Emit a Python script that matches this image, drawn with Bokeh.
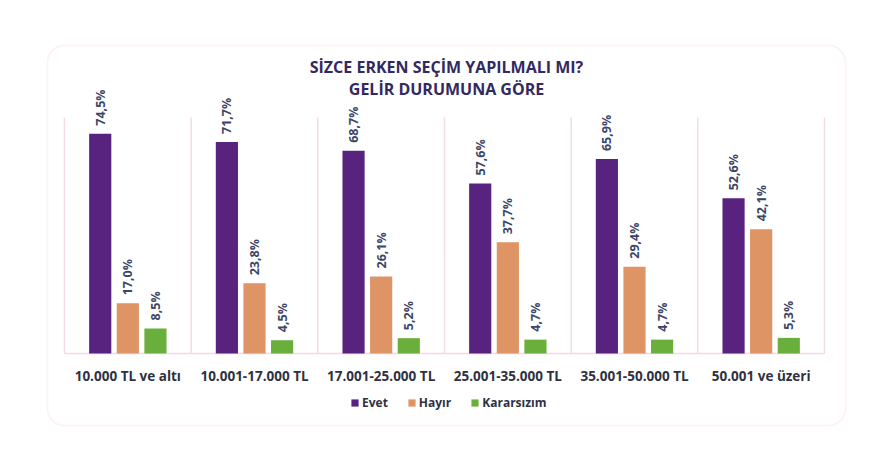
from bokeh.plotting import figure
from bokeh.models import (FactorRange, Range1d, Label, BoxAnnotation, Legend, LegendItem,
                          ColumnDataSource)
from bokeh.transform import dodge
from bokeh.core.properties import value
from bokeh.embed import file_html
from bokeh.resources import INLINE

categories = ["10.000 TL ve altı", "10.001-17.000 TL", "17.001-25.000 TL",
              "25.001-35.000 TL", "35.001-50.000 TL", "50.001 ve üzeri"]
evet = [74.5, 71.7, 68.7, 57.6, 65.9, 52.6]
hayir = [17.0, 23.8, 26.1, 37.7, 29.4, 42.1]
kararsizim = [8.5, 4.5, 5.2, 4.7, 4.7, 5.3]
series_names = ["Evet", "Hayır", "Kararsızım"]
title_lines = ["SİZCE ERKEN SEÇİM YAPILMALI MI?", "GELİR DURUMUNA GÖRE"]
y_max = 80

colors = ["#57237F", "#DE9465", "#6AAF3C"]
FONT = "Open Sans"
W, H = 888, 456
PLOT_TOP, PLOT_BOTTOM = 117, 353   # pixel rows of value-axis top and baseline
px_per_unit = (PLOT_BOTTOM - PLOT_TOP) / y_max

def fmt(v):
    return ("%.1f" % v).replace(".", ",") + "%"

src = ColumnDataSource(dict(
    cat=categories,
    evet=evet, hayir=hayir, karar=kararsizim,
    evet_l=[fmt(v) for v in evet],
    hayir_l=[fmt(v) for v in hayir],
    karar_l=[fmt(v) for v in kararsizim],
    zero=[0] * len(categories),
))

group_px = 760 / len(categories)
x_range = FactorRange(*categories, range_padding=64 / group_px, range_padding_units="absolute")
y_range = Range1d(-(H - PLOT_BOTTOM) / px_per_unit, PLOT_BOTTOM / px_per_unit)

p = figure(width=W, height=H, x_range=x_range, y_range=y_range,
           output_backend="svg", toolbar_location=None,
           x_axis_location=None, y_axis_location=None,
           min_border=0, min_border_left=0, min_border_right=0,
           min_border_top=0, min_border_bottom=0)
p.outline_line_color = None
p.xgrid.visible = False
p.ygrid.visible = False
p.background_fill_color = "white"
p.border_fill_color = "white"

# border box
p.add_layout(BoxAnnotation(left=47, right=845, top=H - 45, bottom=H - 425,
                           left_units="screen", right_units="screen",
                           top_units="screen", bottom_units="screen",
                           fill_alpha=0, line_color="#F4D4E7", line_width=2,
                           border_radius=17))

# separators and baseline
bounds = list(range(len(categories) + 1))
p.segment(x0=bounds, x1=bounds, y0=[0] * len(bounds), y1=[y_max] * len(bounds),
          line_color="#F2DCEA", line_width=1.5)
p.segment(x0=[0], x1=[len(categories)], y0=[0], y1=[0], line_color="#F2D8E8", line_width=1.5)

offs = [-0.218, 0.0, 0.218]
cols = ["evet", "hayir", "karar"]
renderers = []
for off, c, col in zip(offs, cols, colors):
    r = p.vbar(x=dodge("cat", off, range=p.x_range), top=c, width=0.175, source=src,
               fill_color=col, line_color=None)
    renderers.append(r)
    p.text(x=dodge("cat", off, range=p.x_range), y=c, text=c + "_l", source=src,
           angle=1.5708, text_align="left", text_baseline="middle", y_offset=-8,
           text_font=value(FONT), text_font_style="bold", text_font_size="12.5px",
           text_color="#3B4566")

# category labels
p.text(x="cat", y="zero", text="cat", source=src, y_offset=22,
       text_align="center", text_baseline="middle",
       text_font=value(FONT), text_font_style="bold", text_font_size="13.5px",
       text_color="#2E3142")

# title
for i, t in enumerate(title_lines):
    p.add_layout(Label(x=446, y=H - 66 - i * 22, x_units="screen", y_units="screen",
                       text=t, text_align="center", text_baseline="middle",
                       text_font=FONT, text_font_style="bold", text_font_size="16px",
                       text_color="#33295F"))

legend = Legend(items=[LegendItem(label=n, renderers=[r]) for n, r in zip(series_names, renderers)],
                orientation="horizontal", location=(350, H - 411),
                glyph_width=9, glyph_height=9, label_standoff=3, spacing=19,
                padding=0, margin=0, label_height=12,
                label_text_font=FONT, label_text_font_style="bold", label_text_font_size="12px",
                label_text_color="#2E3142", border_line_color=None, background_fill_alpha=0)
p.add_layout(legend, "center")

open("out.html", "w").write(file_html(p, INLINE))
